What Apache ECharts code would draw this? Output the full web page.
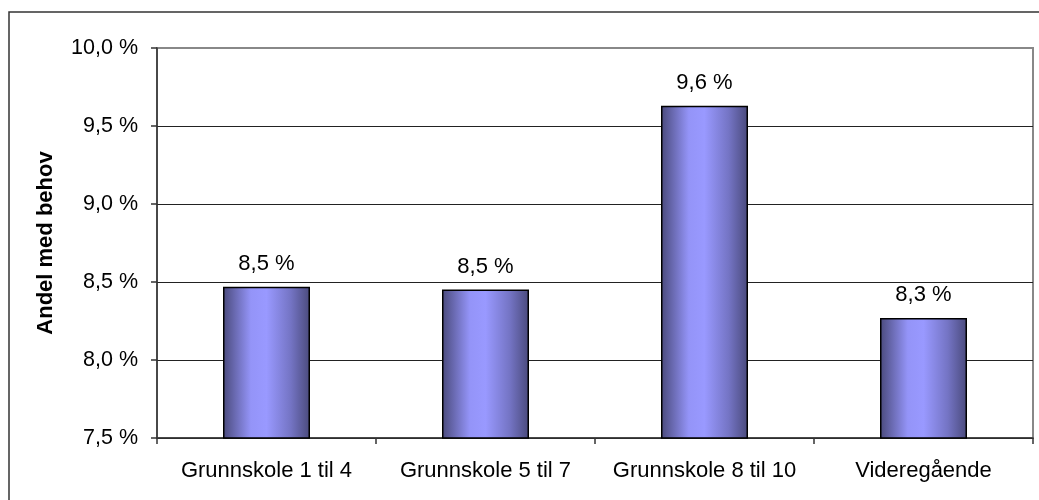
<!DOCTYPE html>
<html>
<head>
<meta charset="utf-8">
<script src="https://cdn.jsdelivr.net/npm/echarts@6/dist/echarts.min.js"></script>
<style>
  html, body { margin: 0; padding: 0; background: #fff; }
  #chart { width: 1039px; height: 500px; }
</style>
</head>
<body>
<div id="chart"></div>
<script>
// categories and values
const categories = ['Grunnskole 1 til 4', 'Grunnskole 5 til 7', 'Grunnskole 8 til 10', 'Videregående'];
const shares = [8.47, 8.452, 9.63, 8.27];
const yTicks = { min: 7.5, max: 10.0, step: 0.5 };
const yTitle = 'Andel med behov';

const font = 'Liberation Sans, Arial, sans-serif';
const pct = v => v.toFixed(1).replace('.', ',') + ' %';

const barFill = new echarts.graphic.LinearGradient(0, 0, 1, 0, [
    { offset: 0, color: '#4a4a7c' },
    { offset: 0.32, color: '#9494f8' },
    { offset: 0.5, color: '#9999ff' },
    { offset: 0.78, color: '#7474c4' },
    { offset: 1, color: '#4a4a7c' },
]);

const chart = echarts.init(document.getElementById('chart'));
chart.setOption({
    animation: false,
    textStyle: { fontFamily: font },
    graphic: [
        // outer chart frame (only top/left visible in the crop)
        {
            type: 'rect',
            shape: { x: 9, y: 12, width: 1200, height: 700 },
            style: { fill: null, stroke: '#333', lineWidth: 1.5 },
            silent: true,
        },
    ],
    grid: {
        left: 157, top: 48, right: 6, bottom: 62,
        show: true, borderColor: '#888', borderWidth: 2, backgroundColor: '#fff',
    },
    xAxis: {
        type: 'category',
        data: categories,
        axisLine: { lineStyle: { color: '#333', width: 1.5 } },
        axisTick: { show: true, interval: 0, length: 6, lineStyle: { color: '#333', width: 1.5 } },
        axisLabel: { color: '#000', fontSize: 22, margin: 22, interval: 0, fontFamily: font },
    },
    yAxis: {
        type: 'value',
        min: yTicks.min,
        max: yTicks.max,
        interval: yTicks.step,
        name: yTitle,
        nameLocation: 'middle',
        nameRotate: 90,
        nameGap: 100,
        nameTextStyle: { color: '#000', fontSize: 22, fontWeight: 'bold', fontFamily: font },
        axisLine: { show: true, lineStyle: { color: '#333', width: 1.5 } },
        axisTick: { show: true, length: 6, lineStyle: { color: '#333', width: 1.5 } },
        axisLabel: { color: '#000', fontSize: 21.5, margin: 19, formatter: pct, fontFamily: font },
        splitLine: { show: true, showMaxLine: false, lineStyle: { color: '#222', width: 1 } },
    },
    series: [
        {
            type: 'bar',
            data: shares,
            barWidth: 87,
            itemStyle: { color: barFill, borderColor: '#000', borderWidth: 1.5 },
            label: {
                show: true,
                position: 'top',
                distance: 12,
                color: '#000',
                fontSize: 22,
                fontFamily: font,
                formatter: p => pct(p.value),
            },
        },
    ],
});
</script>
</body>
</html>
